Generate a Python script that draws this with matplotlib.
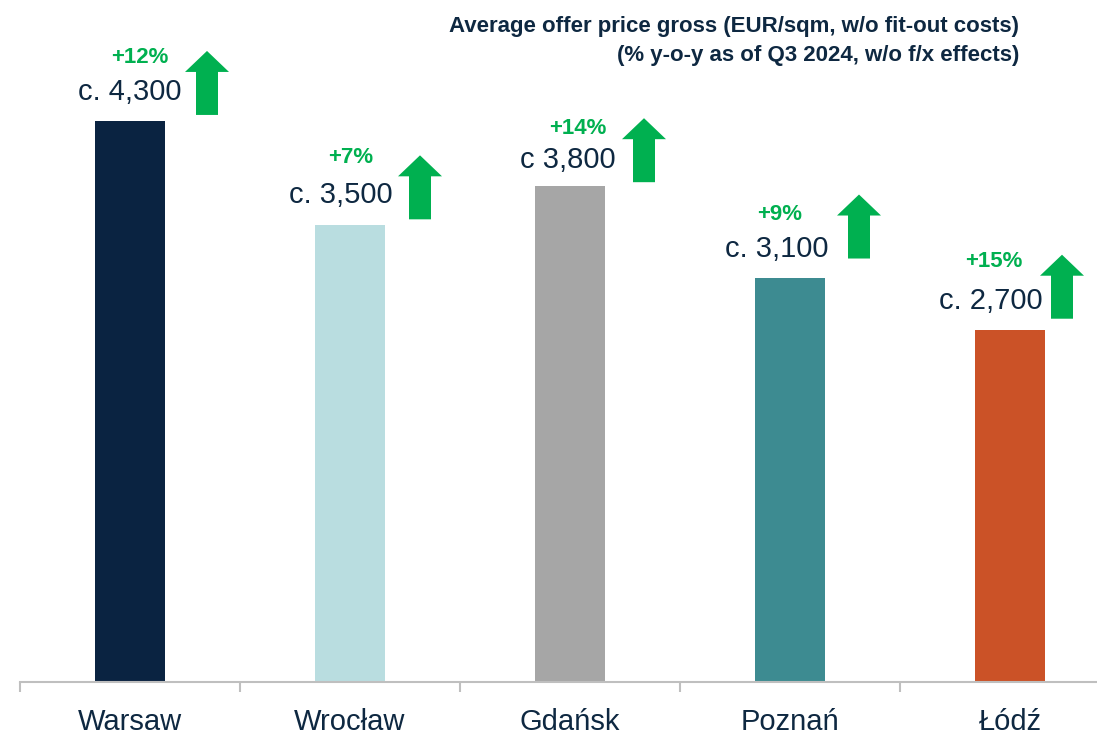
"""Average offer price gross by city, with y-o-y change arrows."""
import matplotlib
matplotlib.use("Agg")
import matplotlib.pyplot as plt
from matplotlib.patches import Polygon
from matplotlib.transforms import Affine2D, ScaledTranslation

plt.rcParams["font.family"] = ["Liberation Sans", "DejaVu Sans"]

cities = ["Warsaw", "Wrocław", "Gdańsk", "Poznań", "Łódź"]
prices = [4300, 3500, 3800, 3100, 2700]
price_labels = ["c. 4,300", "c. 3,500", "c 3,800", "c. 3,100", "c. 2,700"]
yoy_labels = ["+12%", "+7%", "+14%", "+9%", "+15%"]
bar_colors = ["#0A2341", "#B9DDE0", "#A6A6A6", "#3D8B91", "#CB5227"]

# hand-placed nudges in pixels: (dx_value, dy_value, dx_pct, dy_pct, dx_arrow, arrow_gap)
layout = [
    (0, 21, 10, 58, 77, 6),
    (-9, 22, 1, 62, 70, 6),
    (-2, 18, 8, 52, 74, 4),
    (-13, 21, -10, 58, 69, 19),
    (-19, 21, -16, 63, 52, 11),
]

NAVY = "#0E2841"
GREEN = "#00B050"
GREY = "#BFBFBF"

W, H = 1097, 735
fig = plt.figure(figsize=(W / 100, H / 100), dpi=100)
ax = fig.add_axes([20 / W, 1 - 682 / H, 1100 / W, 655 / H])

x = range(len(cities))
ax.bar(x, prices, width=70 / 220, color=bar_colors)
ax.set_xlim(-0.5, 4.5)
ax.set_ylim(0, 5020)

for s in ["top", "right", "left"]:
    ax.spines[s].set_visible(False)
ax.spines["bottom"].set_color(GREY)
ax.spines["bottom"].set_linewidth(1.5)
ax.set_yticks([])
ax.set_xticks(list(x))
ax.set_xticklabels(cities, fontsize=21, color=NAVY)
ax.tick_params(axis="x", which="major", length=0, pad=19)
ax.set_xticks([i - 0.5 for i in range(len(cities) + 1)], minor=True)
ax.tick_params(axis="x", which="minor", length=7.5, width=1.5, color=GREY)

# up arrow shape in pixels, origin at base centre
arrow_shape = [(-11, 0), (11, 0), (11, 43), (22, 43), (0, 64), (-22, 43), (-11, 43)]

for i, (price, vlab, plab) in enumerate(zip(prices, price_labels, yoy_labels)):
    dxv, dyv, dxp, dyp, dxa, gap = layout[i]
    ax.annotate(vlab, (i, price), xytext=(dxv, dyv), textcoords="offset pixels",
                ha="center", va="baseline", fontsize=21, color=NAVY)
    ax.annotate(plab, (i, price), xytext=(dxp, dyp), textcoords="offset pixels",
                ha="center", va="baseline", fontsize=16, color=GREEN, fontweight="bold")
    trans = Affine2D().translate(dxa, gap) + ScaledTranslation(i, price, ax.transData)
    ax.add_patch(Polygon(arrow_shape, closed=True, facecolor=GREEN, edgecolor="none",
                         transform=trans, clip_on=False))

fig.text(1019 / W, 1 - 32 / H, "Average offer price gross (EUR/sqm, w/o fit-out costs)",
         ha="right", va="baseline", fontsize=16, fontweight="bold", color=NAVY)
fig.text(1019 / W, 1 - 61 / H, "(% y-o-y as of Q3 2024, w/o f/x effects)",
         ha="right", va="baseline", fontsize=16, fontweight="bold", color=NAVY)

fig.savefig("out.png", dpi=100)
